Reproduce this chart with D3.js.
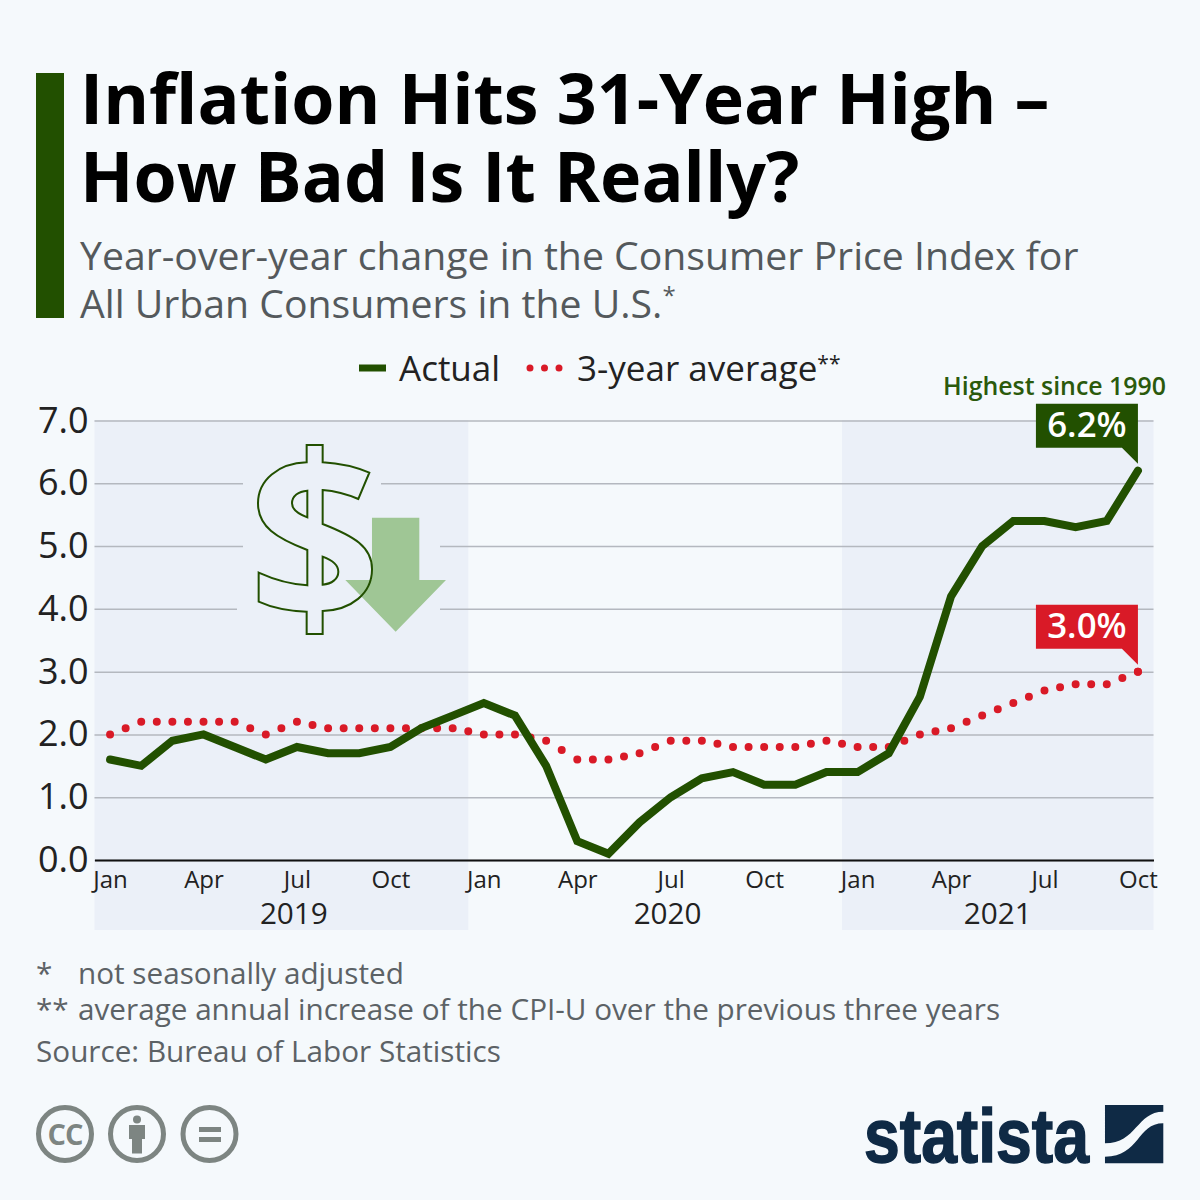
<!DOCTYPE html>
<html>
<head>
<meta charset="utf-8">
<script src="https://cdn.jsdelivr.net/npm/d3@7"></script>
<style>
  html, body { margin: 0; padding: 0; background: #f5f9fc; }
  svg { display: block; font-family: "Open Sans", sans-serif; }
</style>
</head>
<body>
<div id="chart"></div>
<script>
// Chart data, Jan 2019 to Oct 2021
const monthNames = ["Jan", "Feb", "Mar", "Apr", "May", "Jun", "Jul", "Aug", "Sep", "Oct", "Nov", "Dec"];
const actual = [1.6, 1.5, 1.9, 2.0, 1.8, 1.6, 1.8, 1.7, 1.7, 1.8, 2.1, 2.3,
                2.5, 2.3, 1.5, 0.3, 0.1, 0.6, 1.0, 1.3, 1.4, 1.2, 1.2, 1.4,
                1.4, 1.7, 2.6, 4.2, 5.0, 5.4, 5.4, 5.3, 5.4, 6.2];
const average = [2.0, 2.2, 2.2, 2.2, 2.2, 2.0, 2.2, 2.1, 2.1, 2.1, 2.1, 2.1,
                 2.0, 2.0, 1.9, 1.6, 1.6, 1.7, 1.9, 1.9, 1.8, 1.8, 1.8, 1.9,
                 1.8, 1.8, 2.0, 2.1, 2.3, 2.5, 2.7, 2.8, 2.8, 3.0];
const yTicks = [0, 1, 2, 3, 4, 5, 6, 7];
const xTicks = d3.range(0, actual.length, 3);
const years = ["2019", "2020", "2021"];
const yearLabelAt = [5.9, 17.9, 28.5];     // month index the year label sits under
const shadedBands = [[-0.5, 11.5], [23.5, 33.5]];

const green = "#225000";
const red = "#d91a27";
const bandColor = "#ebf0f8";
const navy = "#0f2a45";

const svg = d3.select("#chart").append("svg")
    .attr("width", 1200)
    .attr("height", 1200);

const x = d3.scaleLinear().domain([-0.5, 33.5]).range([94.5, 1153.5]);
const y = d3.scaleLinear().domain([0, 7]).range([860, 420.5]);

// Title block
svg.append("rect").attr("x", 36).attr("y", 73).attr("width", 28).attr("height", 245).attr("fill", green);

const title = svg.append("g").attr("font-weight", 700).attr("font-size", 69.9).attr("fill", "#000");
title.append("text").attr("x", 80).attr("y", 124).text("Inflation Hits 31-Year High –");
title.append("text").attr("x", 80).attr("y", 202).text("How Bad Is It Really?");

const subtitle = svg.append("g").attr("font-size", 39.2).attr("fill", "#54595c");
subtitle.append("text").attr("x", 80).attr("y", 270).text("Year-over-year change in the Consumer Price Index for");
const subLine2 = subtitle.append("text").attr("x", 80).attr("y", 318).text("All Urban Consumers in the U.S.");
subLine2.append("tspan").attr("font-size", 24).attr("dy", -14).text("*");

// Legend
const legend = svg.append("g").attr("font-size", 35).attr("fill", "#222");
legend.append("line").attr("x1", 359).attr("x2", 386).attr("y1", 368).attr("y2", 368)
    .attr("stroke", green).attr("stroke-width", 7);
legend.append("text").attr("x", 399).attr("y", 381).text("Actual");
legend.append("line").attr("x1", 530).attr("x2", 565).attr("y1", 368).attr("y2", 368)
    .attr("stroke", red).attr("stroke-width", 7).attr("stroke-linecap", "round")
    .attr("stroke-dasharray", "0 14.5");
const legendAvg = legend.append("text").attr("x", 577).attr("y", 381).text("3-year average");
legendAvg.append("tspan").attr("font-size", 21).attr("dy", -10).text("**");

// Shaded year bands
svg.append("g").selectAll("rect")
    .data(shadedBands)
    .enter().append("rect")
    .attr("x", d => x(d[0]))
    .attr("width", d => x(d[1]) - x(d[0]))
    .attr("y", 420)
    .attr("height", 510)
    .attr("fill", bandColor);

// Y axis with gridlines
const yAxis = svg.append("g")
    .attr("transform", `translate(${x.range()[0]},0)`)
    .call(d3.axisLeft(y).tickValues(yTicks).tickFormat(d3.format(".1f")).tickSize(-(x.range()[1] - x.range()[0])).tickPadding(6));
yAxis.select(".domain").remove();
yAxis.selectAll("line").attr("stroke", "#b4b8bf").attr("stroke-width", 1.5);
yAxis.selectAll("text")
    .attr("font-size", 36)
    .attr("font-family", "'Open Sans', sans-serif")
    .attr("fill", "#222");

// Gaps in the gridlines around the dollar icon
const gridGaps = [[243, 381, 483], [243, 440, 546], [237, 440, 608]];
svg.append("g").selectAll("rect")
    .data(gridGaps)
    .enter().append("rect")
    .attr("x", d => d[0])
    .attr("width", d => d[1] - d[0])
    .attr("y", d => d[2] - 6)
    .attr("height", 12)
    .attr("fill", bandColor);

// Dollar icon
const icon = svg.append("g").attr("transform", "translate(230,430) scale(0.3333)");
const dollarPath = "M230,45 L278,45 L278,97 C330,100 375,110 418,128 L385,207 C350,192 315,183 278,180 L278,282 "
    + "C370,318 428,350 426,420 C425,490 365,540 278,543 L278,612 L230,612 L230,545 C175,543 125,533 86,515 "
    + "L86,428 C130,448 180,463 232,466 L232,360 C140,325 84,290 84,220 C84,150 145,100 230,97 Z";
const holes = "M232,182 C205,184 186,198 186,220 C186,240 205,252 232,262 Z M278,380 C305,390 325,402 325,425 C325,447 305,462 278,464 Z";
const arrowPoints = "426,263 568,263 568,450 648,450 497,605 346,450 426,450";

icon.append("polygon").attr("points", arrowPoints).attr("fill", "#9fc695");
icon.append("path").attr("d", dollarPath + " " + holes).attr("fill", "none")
    .attr("stroke", green).attr("stroke-width", 6);

// Baseline and x axis
const xAxis = svg.append("g")
    .attr("transform", `translate(0,${y(0)})`)
    .call(d3.axisBottom(x).tickValues(xTicks).tickSize(0).tickPadding(11)
        .tickFormat(i => monthNames[i % 12]));
xAxis.select(".domain").attr("stroke", "#111").attr("stroke-width", 2);
xAxis.selectAll("text")
    .attr("font-size", 24)
    .attr("font-family", "'Open Sans', sans-serif")
    .attr("fill", "#222");

svg.append("g").selectAll("text")
    .data(years)
    .enter().append("text")
    .attr("x", (d, i) => x(yearLabelAt[i]))
    .attr("y", 924)
    .attr("text-anchor", "middle")
    .attr("font-size", 29.7)
    .attr("fill", "#222")
    .text(d => d);

// Lines
const line = d3.line().x((d, i) => x(i)).y(d => y(d));

// two round dots per month step, so the spacing follows the x axis
const avgDash = average.slice(1).map((d, i) => {
    const step = Math.hypot(x(i + 1) - x(i), y(d) - y(average[i]));
    return `0 ${step / 2} 0 ${step / 2}`;
}).join(" ");

svg.append("path")
    .attr("d", line(average))
    .attr("fill", "none")
    .attr("stroke", red)
    .attr("stroke-width", 8)
    .attr("stroke-linecap", "round")
    .attr("stroke-dasharray", avgDash);

// the dash pattern runs out exactly at the end, so the last dot is added here
svg.append("circle")
    .attr("cx", x(average.length - 1))
    .attr("cy", y(average[average.length - 1]))
    .attr("r", 4)
    .attr("fill", red);

svg.append("path")
    .attr("d", line(actual))
    .attr("fill", "none")
    .attr("stroke", green)
    .attr("stroke-width", 8)
    .attr("stroke-linecap", "round")
    .attr("stroke-linejoin", "miter");

// Callouts on the last values
function callout(values, color) {
    const last = values.length - 1;
    const px = x(last), py = y(values[last]);
    const top = py - 67, bottom = py - 23;
    const g = svg.append("g");
    g.append("path")
        .attr("d", `M${px - 102},${top} H${px} V${py - 7} L${px - 16},${bottom} H${px - 102} Z`)
        .attr("fill", color);
    g.append("text")
        .attr("x", px - 51)
        .attr("y", top + 33)
        .attr("text-anchor", "middle")
        .attr("font-size", 34.8)
        .attr("font-weight", 600)
        .attr("fill", "#fff")
        .text(values[last].toFixed(1) + "%");
}
callout(actual, green);
callout(average, red);

svg.append("text")
    .attr("x", 1166).attr("y", 395)
    .attr("text-anchor", "end")
    .attr("font-size", 24.9)
    .attr("font-weight", 600)
    .attr("fill", "#2b5a0c")
    .text("Highest since 1990");

// Footnotes
const notes = svg.append("g").attr("font-size", 29.7).attr("fill", "#5c6266");
notes.append("text").attr("x", 36).attr("y", 984).text("*");
notes.append("text").attr("x", 78).attr("y", 984).text("not seasonally adjusted");
notes.append("text").attr("x", 36).attr("y", 1020).text("**");
notes.append("text").attr("x", 78).attr("y", 1020).text("average annual increase of the CPI-U over the previous three years");
notes.append("text").attr("x", 36).attr("y", 1062).text("Source: Bureau of Labor Statistics");

// Creative Commons badges
const ccGray = "#7d8582";
const badges = svg.append("g");
[65, 137, 209.5].forEach(cx => {
    badges.append("circle").attr("cx", cx).attr("cy", 1134).attr("r", 26.5)
        .attr("fill", "none").attr("stroke", ccGray).attr("stroke-width", 5);
});
badges.append("text").attr("x", 65).attr("y", 1144.5).attr("text-anchor", "middle")
    .attr("font-size", 29).attr("font-weight", 700).attr("letter-spacing", -1).attr("fill", ccGray).text("CC");
badges.append("circle").attr("cx", 137).attr("cy", 1119.5).attr("r", 4).attr("fill", ccGray);
badges.append("path").attr("d", "M129,1125 H145 V1139 H142 V1153.5 H132 V1139 H129 Z").attr("fill", ccGray);
badges.append("rect").attr("x", 199).attr("y", 1127).attr("width", 22).attr("height", 5).attr("fill", ccGray);
badges.append("rect").attr("x", 199).attr("y", 1137).attr("width", 22).attr("height", 5).attr("fill", ccGray);

// Statista logo
svg.append("text")
    .attr("x", 864).attr("y", 1162)
    .attr("font-family", "'Liberation Sans Narrow', 'Liberation Sans', sans-serif")
    .attr("font-weight", 700)
    .attr("font-size", 76)
    .attr("textLength", 225)
    .attr("lengthAdjust", "spacingAndGlyphs")
    .attr("stroke", navy)
    .attr("stroke-width", 1.5)
    .attr("fill", navy)
    .text("statista");
const mark = svg.append("g").attr("transform", "translate(850,1090) scale(0.3333)").attr("fill", navy);
mark.append("path").attr("d", "M765,45 H940 V65 C860,65 860,160 765,160 Z");
mark.append("path").attr("d", "M940,100 V220 H765 V200 C870,200 860,100 940,100 Z");
</script>
</body>
</html>
